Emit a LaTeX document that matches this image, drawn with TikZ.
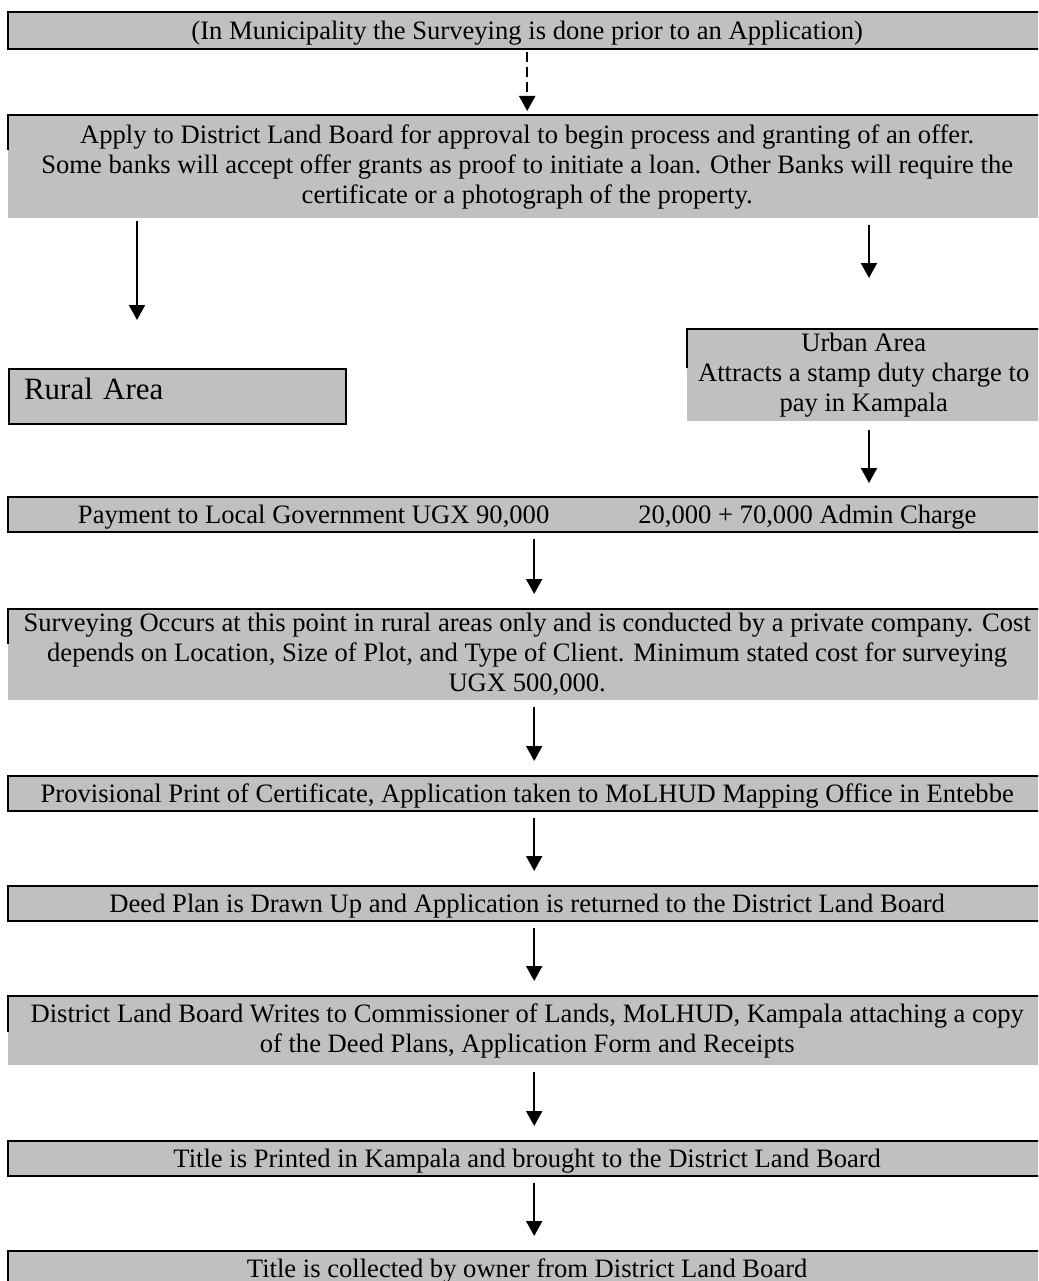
\documentclass[tikz,border=0pt]{standalone}
\usepackage{fontspec}
\setmainfont{Liberation Serif}
\usetikzlibrary{arrows.meta}
\definecolor{boxgray}{RGB}{192,192,192}
\tikzset{
  stepfill/.style={fill=boxgray, anchor=north west, inner sep=0pt, minimum width=1038pt,
    align=center, font=\fontsize{26.6}{30}\selectfont},
  stepbox/.style={stepfill, text height=23.5pt, text depth=5.9pt},
  rim/.style={line width=2pt},
  arr/.style={-{Triangle[width=16pt,length=15pt]}, line width=2pt},
  flow/.style={arr, shorten <=7pt, shorten >=15pt},
}
\begin{document}
\begin{tikzpicture}[x=1pt,y=-1pt]
\useasboundingbox (0,0) rectangle (1038,1281);
\clip (0,0) rectangle (1038,1281);
% boxes
\node[stepbox, minimum height=37pt] (muni) at (8,12) {(In Municipality the Surveying is done prior to an Application)};
\node[stepfill, minimum height=103pt] (apply) at (8,115) {Apply to District Land Board for approval to begin process and granting of an offer.\\
  Some banks will accept offer grants as proof to initiate a loan. Other Banks will require the\\
  certificate or a photograph of the property.};
\node[stepbox, draw, line width=2pt, minimum width=337pt, minimum height=55pt, align=left, text width=307pt,
  inner xsep=15pt, text height=30pt, text depth=25pt, font=\fontsize{31}{36}\selectfont] (rural) at (8,368) {Rural Area};
\node[stepfill, minimum width=353pt, minimum height=92pt] (urban) at (687,329) {Urban Area\\ Attracts a stamp duty charge to\\ pay in Kampala};
\node[stepbox, minimum height=35pt] (pay) at (8,497) {Payment to Local Government UGX 90,000\hspace{89pt}20,000 + 70,000 Admin Charge};
\node[stepfill, minimum height=91pt] (survey) at (8,609) {Surveying Occurs at this point in rural areas only and is conducted by a private company. Cost\\
  depends on Location, Size of Plot, and Type of Client. Minimum stated cost for surveying\\
  UGX 500,000.};
\node[stepbox, minimum height=35pt] (prov) at (8,776) {Provisional Print of Certificate, Application taken to MoLHUD Mapping Office in Entebbe};
\node[stepbox, minimum height=35pt] (deed) at (8,886) {Deed Plan is Drawn Up and Application is returned to the District Land Board};
\node[stepfill, minimum height=69pt] (board) at (8,996) {District Land Board Writes to Commissioner of Lands, MoLHUD, Kampala attaching a copy\\
  of the Deed Plans, Application Form and Receipts};
\node[stepbox, minimum height=35pt] (printed) at (8,1141) {Title is Printed in Kampala and brought to the District Land Board};
\node[stepbox, minimum height=35pt] (collect) at (8,1251) {Title is collected by owner from District Land Board};
% borders (right side runs off the page)
\foreach \n in {muni,pay,prov,deed,printed,collect}
  \draw[rim] (\n.north east) -- (\n.north west) -- (\n.south west) -- (\n.south east);
\foreach \n/\h in {apply/35,urban/39,survey/35,board/36}
  \draw[rim] ([yshift=-\h pt]\n.north west) -- (\n.north west) -- (\n.north east);
% arrows
\draw[arr, dash pattern=on 10pt off 5pt, shorten <=3pt, shorten >=4pt] (muni.south) -- (apply.north);
\draw[arr, shorten <=3pt, shorten >=48pt] ([xshift=129pt]apply.south west) -- ([xshift=129pt]rural.north west);
\draw[arr, shorten <=7pt, shorten >=51pt] ([xshift=861pt]apply.south west) -- ([xshift=182pt]urban.north west);
\draw[arr, shorten <=9pt, shorten >=14pt] ([xshift=182pt]urban.south west) -- ([xshift=861pt]pay.north west);
\foreach \a/\b in {pay/survey, survey/prov, prov/deed, deed/board, board/printed, printed/collect}
  \draw[flow] ([xshift=7pt]\a.south) -- ([xshift=7pt]\b.north);
\end{tikzpicture}
\end{document}
